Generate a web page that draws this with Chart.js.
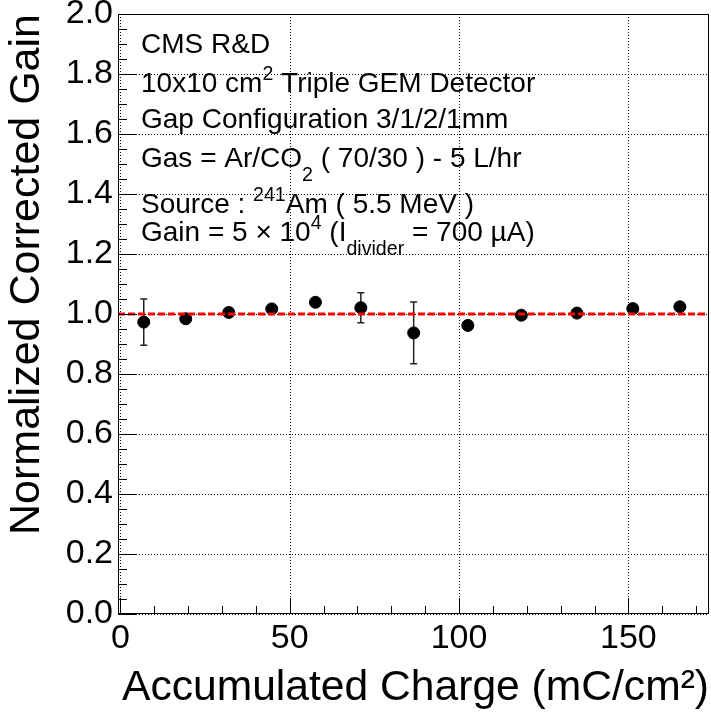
<!DOCTYPE html>
<html>
<head>
<meta charset="utf-8">
<script src="https://cdn.jsdelivr.net/npm/chart.js@4/dist/chart.umd.min.js"></script>
<style>
  html, body { margin: 0; padding: 0; background: #fff; }
  #wrap { width: 711px; height: 714px; position: relative; }
</style>
</head>
<body>
<div id="wrap"><canvas id="c" width="711" height="714"></canvas></div>
<script>
// ---- data ----
const accumulatedCharge = [6.9, 19.3, 32.0, 44.7, 57.6, 71.0, 86.6, 102.6, 118.4, 134.8, 151.3, 165.2];
const normalizedGain    = [0.973, 0.984, 1.005, 1.017, 1.039, 1.021, 0.937, 0.962, 0.996, 1.003, 1.018, 1.024];
const gainErrors        = [0.077, 0, 0, 0, 0, 0.05, 0.103, 0, 0, 0, 0, 0];
const referenceLevel    = 1.0;
const xTickValues       = [0, 50, 100, 150];
const xRange            = [-0.7, 173.8];
const yRange            = [0, 2];
const xTitle = "Accumulated Charge (mC/cm\u00B2)";
const yTitle = "Normalized Corrected Gain";

// annotation lines: segments [text, mode] (mode: n=normal, sup, sub)
const infoLines = [
  [["CMS R&D","n"]],
  [["10x10 cm","n"],["2","sup"],[" Triple GEM Detector","n"]],
  [["Gap Configuration 3/1/2/1mm","n"]],
  [["Gas = Ar/CO","n"],["2","sub"],[" ( 70/30 ) - 5 L/hr","n"]],
  [["Source : ","n"],["241","sup"],["Am ( 5.5 MeV )","n"]],
  [["Gain = 5 \u00D7 10","n"],["4","sup"],[" (I","n"],["divider","sub"],[" = 700 \u00B5A)","n"]]
];
const infoBaselines = [53, 92, 128, 167, 213, 241];

const FONT = "'Liberation Sans', Arial, Helvetica, sans-serif";

// dotted grid at the scales' own ticks + error bars (under the markers)
const gridAndErrorPlugin = {
  id: 'gridErrors',
  beforeDatasetsDraw(chart) {
    const ctx = chart.ctx;
    const a = chart.chartArea;
    const xs = chart.scales.x, ys = chart.scales.y;
    ctx.save();
    ctx.strokeStyle = '#000';
    ctx.lineWidth = 1;
    ctx.setLineDash([1, 2]);
    ctx.beginPath();
    xs.ticks.forEach(t => {
      const px = Math.round(xs.getPixelForValue(t.value)) + 0.5;
      ctx.moveTo(px, a.top); ctx.lineTo(px, a.bottom);
    });
    ys.ticks.forEach(t => {
      const py = Math.round(ys.getPixelForValue(t.value)) + 0.5;
      ctx.moveTo(a.left, py); ctx.lineTo(a.right, py);
    });
    ctx.stroke();
    ctx.restore();

    ctx.save();
    ctx.strokeStyle = '#222';
    ctx.lineWidth = 1.5;
    ctx.setLineDash([]);
    for (let i = 0; i < accumulatedCharge.length; i++) {
      const e = gainErrors[i];
      if (!e) continue;
      const px = xs.getPixelForValue(accumulatedCharge[i]);
      const y1 = ys.getPixelForValue(normalizedGain[i] + e);
      const y2 = ys.getPixelForValue(normalizedGain[i] - e);
      ctx.beginPath();
      ctx.moveTo(px, y1); ctx.lineTo(px, y2);
      ctx.moveTo(px - 3.5, y1); ctx.lineTo(px + 3.5, y1);
      ctx.moveTo(px - 3.5, y2); ctx.lineTo(px + 3.5, y2);
      ctx.stroke();
    }
    ctx.restore();
  }
};

const framePlugin = {
  id: 'frameTicks',
  afterDraw(chart) {
    const ctx = chart.ctx;
    const a = chart.chartArea;
    const xs = chart.scales.x, ys = chart.scales.y;
    ctx.save();
    ctx.strokeStyle = '#000';
    ctx.lineWidth = 1;
    ctx.setLineDash([]);
    ctx.strokeRect(Math.round(a.left) + 0.5, Math.round(a.top) + 0.5,
                   Math.round(a.right - a.left) - 1, Math.round(a.bottom - a.top) - 1);
    ctx.beginPath();
    // y ticks (inside)
    for (let k = 0; k <= 40; k++) {
      const v = k * 0.05;
      const py = Math.round(ys.getPixelForValue(v)) + 0.5;
      const len = (k % 4 === 0) ? 18 : 9;
      ctx.moveTo(a.left, py); ctx.lineTo(a.left + len, py);
    }
    // x ticks (inside)
    for (let v = 0; v <= xRange[1]; v += 10) {
      const px = Math.round(xs.getPixelForValue(v)) + 0.5;
      const len = (v % 50 === 0) ? 16 : 8;
      ctx.moveTo(px, a.bottom); ctx.lineTo(px, a.bottom - len);
    }
    ctx.stroke();
    ctx.restore();

    // annotation text
    ctx.save();
    ctx.fillStyle = '#000';
    ctx.textBaseline = 'alphabetic';
    ctx.textAlign = 'left';
    const size = 28;
    infoLines.forEach((segs, li) => {
      let x = 141;
      const base = infoBaselines[li];
      segs.forEach(([t, m]) => {
        let fs = size, dy = 0;
        if (m === 'sup') { fs = size * 0.7; dy = -size * 0.42; }
        if (m === 'sub') { fs = size * 0.7; dy = size * 0.5; }
        ctx.font = fs + 'px ' + FONT;
        ctx.fillText(t, x, base + dy);
        x += ctx.measureText(t).width;
      });
    });
    ctx.restore();
  }
};

new Chart(document.getElementById('c'), {
  data: {
    datasets: [
      {
        type: 'line',
        order: 0,
        data: [{x: xRange[0], y: referenceLevel}, {x: xRange[1], y: referenceLevel}],
        borderColor: '#ff0000',
        borderWidth: 3,
        borderDash: [7, 3],
        pointRadius: 0,
        fill: false
      },
      {
        type: 'scatter',
        order: 1,
        data: accumulatedCharge.map((x, i) => ({x: x, y: normalizedGain[i]})),
        backgroundColor: '#000',
        borderColor: '#000',
        pointRadius: 6,
        pointHoverRadius: 6
      }
    ]
  },
  plugins: [gridAndErrorPlugin, framePlugin],
  options: {
    responsive: false,
    animation: false,
    layout: { autoPadding: false, padding: { top: 14, right: 2, left: 0, bottom: 0 } },
    plugins: { legend: { display: false }, tooltip: { enabled: false } },
    scales: {
      x: {
        type: 'linear',
        min: xRange[0], max: xRange[1],
        afterBuildTicks(s) { s.ticks = xTickValues.map(v => ({value: v})); },
        afterFit(s) { s.height = 100; s.paddingLeft = 0; s.paddingRight = 0; },
        grid: { display: false, drawTicks: false },
        border: { display: false },
        ticks: { color: '#000', padding: 4, maxRotation: 0, font: { family: FONT, size: 34 },
                 callback: v => String(v) },
        title: { display: true, text: xTitle, align: 'end', color: '#000',
                 font: { family: FONT, size: 42.6 }, padding: { top: 0, bottom: 0 } }
      },
      y: {
        type: 'linear',
        min: yRange[0], max: yRange[1],
        ticks: { stepSize: 0.2, color: '#000', padding: 5, font: { family: FONT, size: 34 },
                 callback: v => Number(v).toFixed(1) },
        afterFit(s) { s.width = 118; s.paddingTop = 0; s.paddingBottom = 0; },
        grid: { display: false, drawTicks: false },
        border: { display: false },
        title: { display: true, text: yTitle, align: 'end', color: '#000',
                 font: { family: FONT, size: 43 }, padding: { top: 1, bottom: 0 } }
      }
    }
  }
});
</script>
</body>
</html>
